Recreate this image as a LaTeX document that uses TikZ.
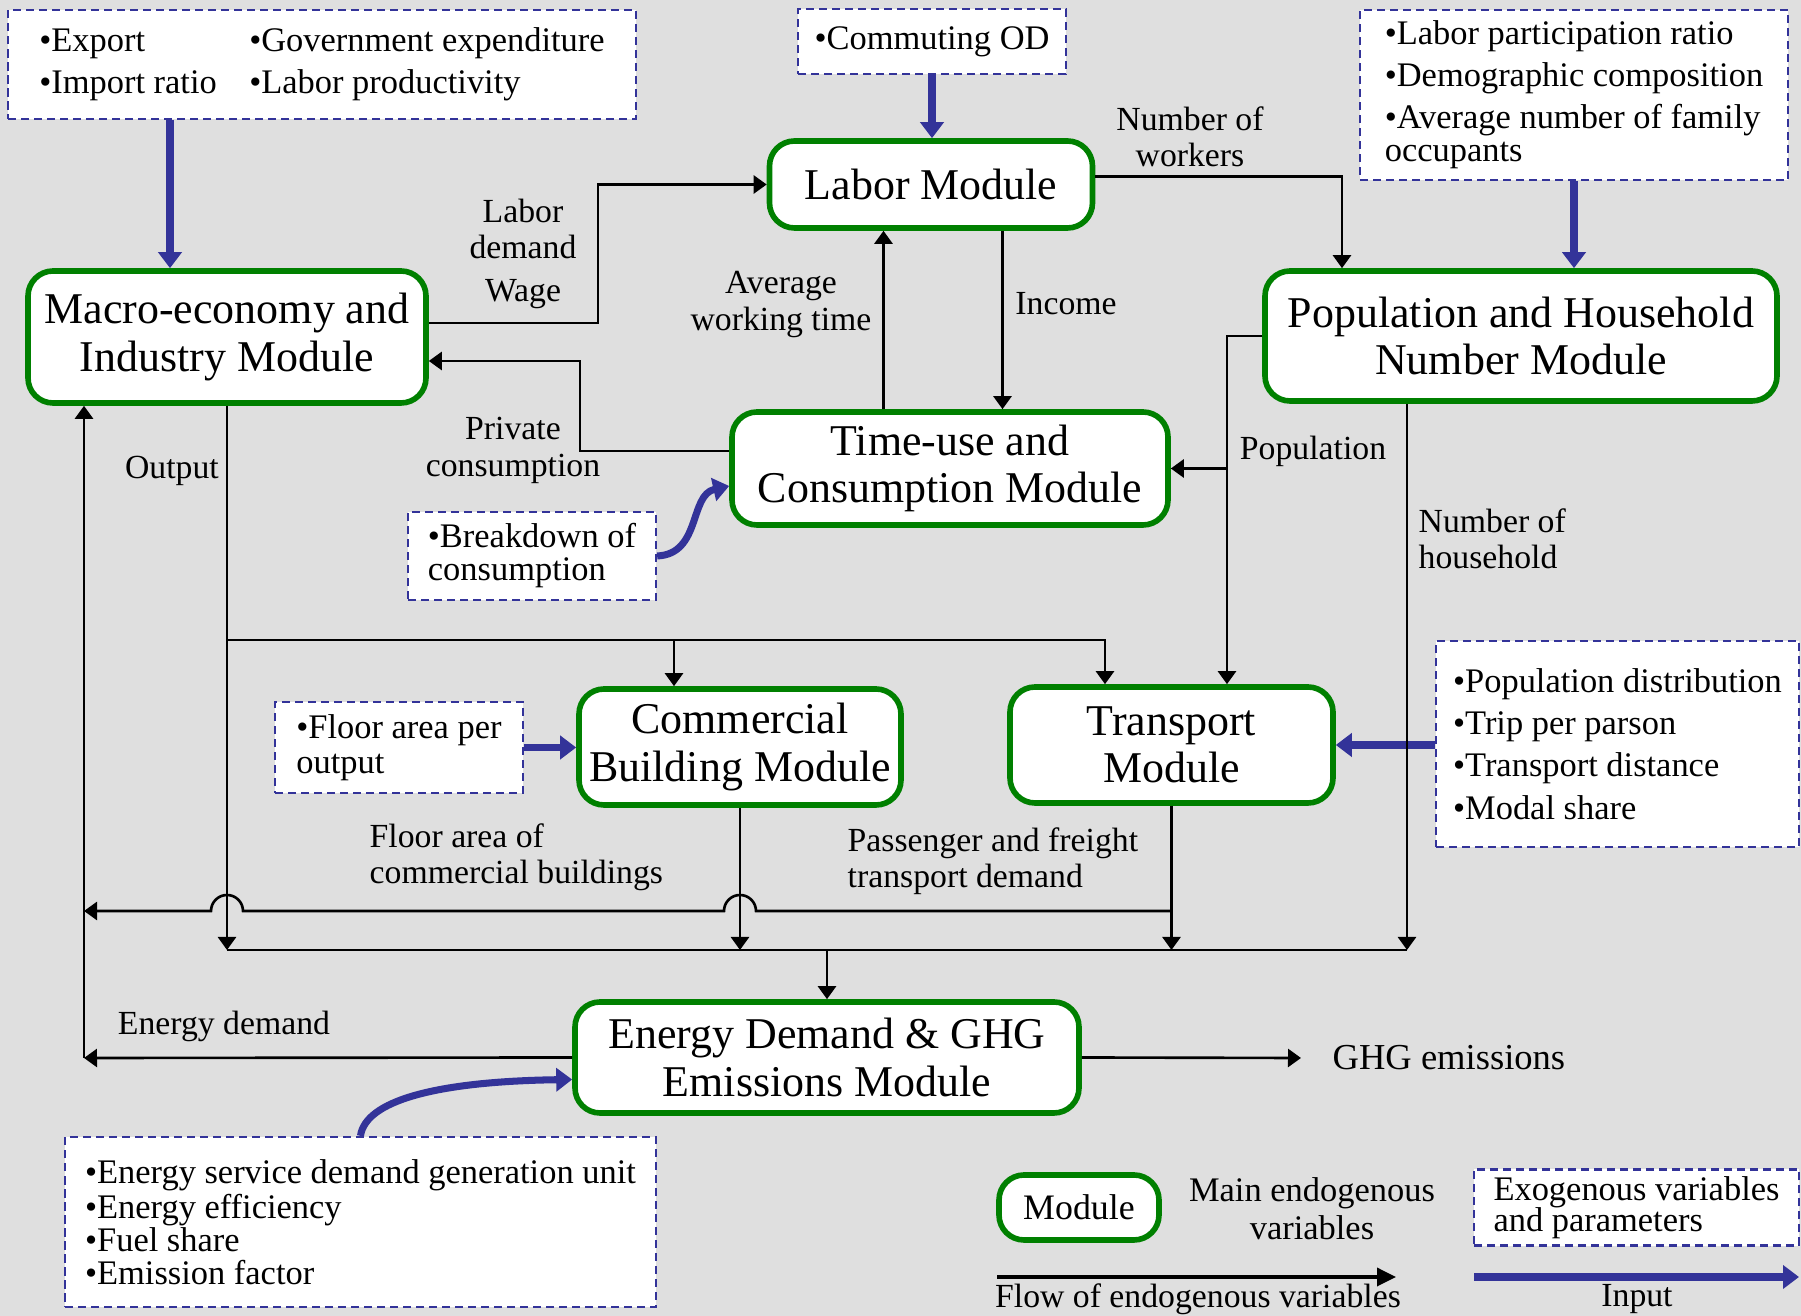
\documentclass[tikz,border=0pt]{standalone}
\usepackage{fontspec}
\setmainfont{Liberation Serif}
\usetikzlibrary{arrows.meta, calc, positioning}
\definecolor{Bgcol}{RGB}{223, 223, 223}
\definecolor{Modcol}{RGB}{0, 128, 0}
\definecolor{Exocol}{RGB}{51, 51, 153}

\begin{document}
\begin{tikzpicture}[
    x=0.1mm, y=-0.1mm,
    every node/.style={align=center},
    modbox/.style={
        rectangle, rounded corners=2.5mm,
        draw=Modcol, line width=1.6pt, fill=white,
        inner sep=2pt, font=\fontsize{12.5}{13.5}\selectfont
    },
    exobox/.style={
        rectangle, draw=Exocol, fill=white,
        line width=0.65pt, dash pattern=on 2.3pt off 1.4pt,
        inner sep=2pt, align=left,
        font=\fontsize{9.8}{12}\selectfont
    },
    varlabel/.style={inner sep=0pt, font=\fontsize{9.6}{10.3}\selectfont},
    flow/.style={
        -{Triangle[length=1.3mm, width=1.8mm]},
        line width=0.75pt, color=black
    },
    inputarrow/.style={
        -{Triangle[length=1.6mm, width=2.3mm]},
        line width=2pt, color=Exocol
    }
]

    % ------------------- SFONDO -------------------
    \useasboundingbox (0,0) rectangle (1801,1316);
    \fill[Bgcol] (0,0) rectangle (1801,1316);

    % ------------------- MODULI -------------------
    \node[modbox, minimum width=39.8mm, minimum height=13.2mm] (mMacro) at (227,337) {Macro-economy and\\Industry Module};
    \node[modbox, minimum width=32.3mm, minimum height=8.7mm] (mLabor) at (931,184.5) {Labor Module};
    \node[modbox, minimum width=51.2mm, minimum height=13mm] (mPop) at (1521,336) {Population and Household\\Number Module};
    \node[modbox, minimum width=43.6mm, minimum height=11.3mm] (mTime) at (950,468.5) {Time-use and\\Consumption Module};
    \node[modbox, minimum width=32.2mm, minimum height=11.6mm] (mCom) at (740,747) {Commercial\\Building Module};
    \node[modbox, minimum width=32.3mm, minimum height=11.6mm] (mTrans) at (1171.5,745) {Transport\\Module};
    \node[modbox, minimum width=50.4mm, minimum height=11.1mm] (mEnergy) at (827,1057.5) {Energy Demand \& GHG\\Emissions Module};

    % ------------------- VARIABILI ESOGENE -------------------
    \node[exobox, minimum width=62.8mm, minimum height=10.9mm] (xMacro) at (322,64.5)
        {\makebox[21mm][l]{\textbullet Export}\textbullet Government expenditure\\
         \makebox[21mm][l]{\textbullet Import ratio}\textbullet Labor productivity};
    \node[exobox, minimum width=26.8mm, minimum height=6.5mm] (xLabor) at (932,41.5) {\textbullet Commuting OD};
    \node[exobox, minimum width=42.8mm, minimum height=17mm] (xPop) at (1574,95)
        {\textbullet Labor participation ratio\\[0pt]\textbullet Demographic composition\\[0pt]%
         \textbullet Average number of family\\[-2.6pt]occupants};
    \node[exobox, minimum width=24.8mm, minimum height=8.8mm] (xBrk) at (532,556) {\textbullet Breakdown of\\[-2.6pt]consumption};
    \node[exobox, minimum width=24.8mm, minimum height=9.1mm] (xFloor) at (399,747.5) {\textbullet Floor area per\\[-2pt]output};
    \node[exobox, minimum width=36.3mm, minimum height=20.6mm] (xTrans) at (1617.5,744)
        {\textbullet Population distribution\\\textbullet Trip per parson\\\textbullet Transport distance\\\textbullet Modal share};
    \node[exobox, minimum width=59.1mm, minimum height=17mm] (xEnergy) at (360.5,1222)
        {\textbullet Energy service demand generation unit\\[-2pt]\textbullet Energy efficiency\\[-2.6pt]%
         \textbullet Fuel share\\[-2.6pt]\textbullet Emission factor};

    % ------------------- ETICHETTE DELLE VARIABILI -------------------
    \node[varlabel] (lDemand) at (523,229) {Labor\\demand};
    \node[varlabel] (lWage) at (523,294) {Wage};
    \node[varlabel] (lAvg) at (781,304.5) {Average\\working time};
    \node[varlabel] (lIncome) at (1066,304) {Income};
    \node[varlabel] (lWorkers) at (1190,137) {Number of\\workers};
    \node[varlabel] (lPrivate) at (513,450.5) {Private\\consumption};
    \node[varlabel] (lOutput) at (172,471) {Output};
    \node[varlabel] (lPopulation) at (1313,451) {Population};
    \node[varlabel, anchor=west, align=left] (lHouse) at (1418,538.5) {Number of\\household};
    \node[varlabel, anchor=west, align=left] (lFloor) at (369,857.5) {Floor area of\\commercial buildings};
    \node[varlabel, anchor=west, align=left] (lPass) at (847,861.5) {Passenger and freight\\transport demand};
    \node[varlabel] (lEnergy) at (224,1026) {Energy demand};
    \node[varlabel, anchor=west, font=\fontsize{10.4}{12}\selectfont] (lGHG) at (1332,1058) {GHG emissions};

    % ------------------- INPUT ESOGENI -------------------
    \draw[inputarrow] ([xshift=-5.7mm]mMacro.north |- xMacro.south) -- ([xshift=-5.7mm]mMacro.north);
    \draw[inputarrow] (xLabor.south) -- (xLabor.south |- mLabor.north);
    \draw[inputarrow] (xPop.south) -- (xPop.south |- mPop.north);
    \draw[inputarrow] (xBrk.east) .. controls +(44,-2) and +(-40,9) .. ([yshift=-1.75mm]mTime.west);
    \draw[inputarrow] (xFloor.east) -- (xFloor.east -| mCom.west);
    \draw[inputarrow] (xTrans.west |- mTrans.east) -- (mTrans.east);
    \draw[inputarrow] (xEnergy.north) .. controls +(5,-35) and +(-137,2) .. ([yshift=-2.2mm]mEnergy.west);

    % ------------------- FLUSSI ENDOGENI -------------------
    \coordinate (jLab) at (598,323);
    \coordinate (jPc) at (580,451);
    \coordinate (xPopv) at ([xshift=5.55mm]mTrans.north);
    \coordinate (jOut) at (227,640);
    \coordinate (busL) at (227,950);
    \coordinate (busR) at (1407,950);
    \coordinate (fbT) at (84,911);
    \coordinate (fbB) at (84,1058);

    % labor demand / wage
    \draw[flow] (mMacro.east |- jLab) -- (jLab) |- (mLabor.west);
    % private consumption
    \draw[flow] (mTime.west |- jPc) -- (jPc) |- ([yshift=-2.4mm]mMacro.east);
    % average working time, income
    \draw[flow] ([xshift=-4.75mm]mLabor.south |- mTime.north) -- ([xshift=-4.75mm]mLabor.south);
    \draw[flow] ([xshift=7.15mm]mLabor.south) -- ([xshift=7.15mm]mLabor.south |- mTime.north);
    % number of workers
    \draw[flow] ([yshift=0.8mm]mLabor.east) -| ([xshift=-17.9mm]mPop.north);
    % population
    \draw[flow] (mPop.west) -| (xPopv);
    \draw[flow] (xPopv |- mTime.east) -- (mTime.east);
    % number of household
    \draw[flow] (mPop.south -| busR) -- (busR);
    % output
    \draw[flow] (mMacro.south) -- (busL);
    \draw[flow] (jOut) -| ([xshift=-6.65mm]mTrans.north);
    \draw[flow] ([xshift=-6.6mm]mCom.north |- jOut) -- ([xshift=-6.6mm]mCom.north);
    % floor area, passenger and freight
    \draw[flow] (mCom.south) -- (mCom.south |- busL);
    \draw[flow] (mTrans.south) -- (mTrans.south |- busL);
    \draw[line width=0.75pt] (busL) -- (busR);
    \draw[flow] (mEnergy.north |- busL) -- (mEnergy.north);
    % ritorno verso macro (con salti)
    \draw[flow] (mTrans.south |- fbT) -- ([xshift=1.6mm]mCom.south |- fbT)
        arc[start angle=0, end angle=180, radius=1.6mm]
        -- ([xshift=1.6mm]mMacro.south |- fbT)
        arc[start angle=0, end angle=180, radius=1.6mm] -- (fbT);
    \draw[flow] (mEnergy.west) -- (fbB);
    \draw[flow] (fbB) -- (fbB |- mMacro.south);
    % GHG
    \draw[flow] (mEnergy.east) -- ([xshift=-3.1mm]lGHG.west);

    % ------------------- LEGENDA -------------------
    \node[modbox, minimum width=16mm, minimum height=6.5mm, font=\fontsize{10.2}{12}\selectfont] (mLegend) at (1079,1207.5) {Module};
    \node[varlabel, font=\fontsize{9.8}{10.8}\selectfont] (lMain) at (1312,1208.5) {Main endogenous\\variables};
    \node[exobox, minimum width=32.5mm, minimum height=6.9mm] (xLegend) at (1636.5,1207.5) {Exogenous variables\\[-3.2pt]and parameters};
    \node[varlabel] (lFlow) at (1198,1299) {Flow of endogenous variables};
    \node[varlabel] (lInput) at (1637,1299) {Input};

    \coordinate (lgA) at (997,1277);
    \coordinate (lgB) at (1396,1277);
    \coordinate (lgC) at (1474,1277);
    \coordinate (lgD) at (1799,1277);
    \draw[flow, line width=1pt, -{Triangle[length=1.9mm, width=1.8mm]}] (lgA) -- (lgB);
    \draw[inputarrow] (lgC) -- (lgD);
\end{tikzpicture}
\end{document}
